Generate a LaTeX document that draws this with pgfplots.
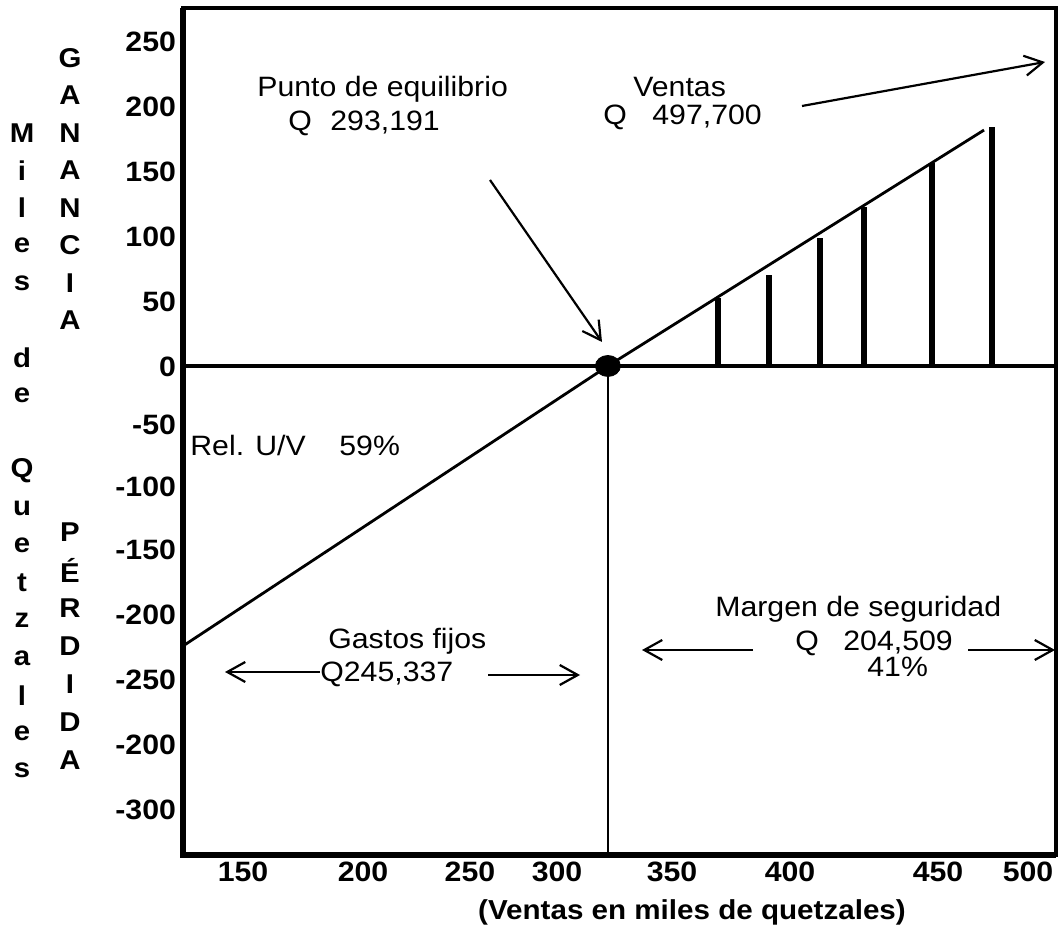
\documentclass[border=0pt]{standalone}
\usepackage{pgfplots}
\pgfplotsset{compat=1.18}
\usepackage{fontspec}
\setmainfont{Liberation Sans}[FakeStretch=1.08]
\usetikzlibrary{arrows.meta}
\newcommand\annf{\fontsize{14}{16}\selectfont}
\newcommand\bigb{\bfseries\fontsize{14}{16}\selectfont}
\newcommand\sideb{\bfseries\fontsize{13.6}{16}\selectfont}
\begin{document}
\begin{tikzpicture}
\useasboundingbox (-91.5pt,-38pt) rectangle (438pt,427.5pt);
\begin{axis}[
  at={(0pt,0pt)}, anchor=south west,
  scale only axis, width=436.5pt, height=423.5pt,
  xmin=123.25, xmax=512.5, ymin=-376.2, ymax=275.4,
  clip=false,
  axis line style={line width=2pt},
  tick style={draw=none},
  xtick={150,203.5,251.2,290.0,341.3,393.9,459.9,500},
  xticklabels={150,200,250,300,350,400,450,500},
  ytick={249.2,199.2,149.2,99.2,49.2,-0.8,-45.4,-93.1,-141.5,-191.5,-241.5,-291.5,-341.5},
  yticklabels={250,200,150,100,50,0,-50,-100,-150,-200,-250,-200,-300},
  tick label style={font=\bigb},
  /pgf/number format/assume math mode=true,
]
% zero line
\addplot[line width=1.6pt] coordinates {(123.25,0) (512.5,0)};
% break-even vertical line
\addplot[line width=1.1pt] coordinates {(312.7,0) (312.7,-376.2)};
% profit line
\addplot[line width=1.4pt] coordinates {(123.25,-215.4) (312.7,0) (480.4,181.5)};
% profit bars
\addplot[ycomb, line width=2.7pt] coordinates {(361.8,52.3) (384.5,70) (407.2,98.5) (426.9,122.3) (457.2,156.2) (483.9,183.8)};
% break-even dot
\addplot[only marks, mark=*, mark size=5.25pt, mark options={xscale=1.19}] coordinates {(312.7,0)};
\draw[line width=2.6pt] (rel axis cs:0,1) -- (rel axis cs:0,0) -- (rel axis cs:1,0);
\end{axis}
% side letters
\foreach \l/\k in {M/0,i/1,l/2,e/3,s/4,d/6,e/7,Q/9,u/10,e/11,t/12,z/13,a/14,l/15,e/16,s/17}
  \node[inner sep=0, font=\sideb] at (-80.5pt,{(361-18.75*\k)*1pt}) {\l};
\foreach \l/\k in {G/-2,A/-1,N/0,A/1,N/2,C/3,I/4,A/5}
  \node[inner sep=0, font=\sideb] at (-56.5pt,{(361-18.75*\k)*1pt}) {\l};
\foreach \l/\k in {P/0,É/1,R/2,D/3,I/4,D/5,A/6}
  \node[inner sep=0, font=\sideb] at (-56.5pt,{(161.5-19*\k)*1pt}) {\l};
% x label
\node[inner sep=0, font=\bfseries\fontsize{13.7}{16}\selectfont] at (254.5pt,-28.5pt) {(Ventas en miles de quetzales)};
% annotations
\begin{scope}[every node/.style={inner sep=0, anchor=base west, font=\annf}]
\node at (37pt,379pt) {Punto de equilibrio};
\node at (52.5pt,362pt) {Q};
\node at (73.5pt,362pt) {293,191};
\node at (225pt,379pt) {Ventas};
\node at (210pt,365pt) {Q};
\node at (234.5pt,365pt) {497,700};
\node at (3.5pt,199.5pt) {Rel. U/V};
\node at (78pt,199.5pt) {59\%};
\node at (72.5pt,103pt) {Gastos fijos};
\node at (68.5pt,86.5pt) {Q245,337};
\node at (266pt,119pt) {Margen de seguridad};
\node at (306pt,102pt) {Q};
\node at (330pt,102pt) {204,509};
\node at (342pt,89pt) {41\%};
\end{scope}
\begin{scope}[line width=1.1pt, -{Straight Barb[length=9pt,width=10pt,line width=1.1pt]}]
\draw (153.5pt,337.5pt) -- (209.5pt,256.5pt);
\draw (309.5pt,374.5pt) -- (431pt,396.5pt);
\draw (68.5pt,91.5pt) -- (21pt,91.5pt);
\draw (152.5pt,90pt) -- (198.5pt,90pt);
\draw (285pt,102.5pt) -- (229.5pt,102.5pt);
\draw (392.5pt,102.5pt) -- (436pt,102.5pt);
\end{scope}
\end{tikzpicture}
\end{document}
